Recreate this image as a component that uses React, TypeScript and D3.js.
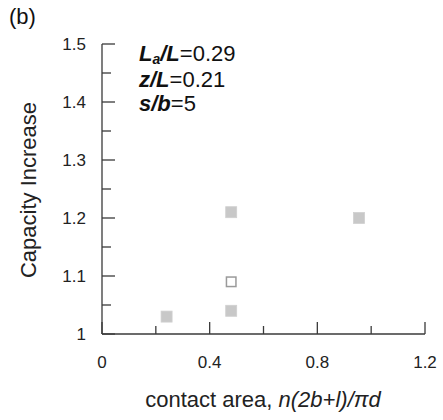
import React from "react";
import * as d3 from "d3";

const filledX = [0.24, 0.48, 0.48, 0.955];
const filledY = [1.03, 1.21, 1.04, 1.2];
const openX = [0.48];
const openY = [1.09];
const xTickLabels = [0, 0.4, 0.8, 1.2];
const yTickLabels = [1, 1.1, 1.2, 1.3, 1.4, 1.5];
const xMinorTicks = [0, 0.2, 0.4, 0.6, 0.8, 1.0, 1.2];
const yMinorTicks = [1.05, 1.15, 1.25, 1.35, 1.45];

const W = 443;
const H = 420;
const left = 102;
const right = 425;
const top = 44;
const bottom = 334;

export default function App() {
  const x = d3.scaleLinear().domain([0, 1.2]).range([left, right]);
  const y = d3.scaleLinear().domain([1, 1.5]).range([bottom, top]);
  const font = "Arial, 'Liberation Sans', Helvetica, sans-serif";
  const axisColor = "#3a3a3a";
  const ms = 11;
  return (
    <svg
      width={W}
      height={H}
      style={{ position: "absolute", left: 0, top: 0, display: "block" }}
      fontFamily={font}
    >
      <rect width={W} height={H} fill="#fff" />
      <text x={9} y={24} fontSize={22} fill="#111">(b)</text>

      {/* axes lines */}
      <line x1={left} x2={left} y1={top} y2={bottom} stroke={axisColor} strokeWidth={1.3} />
      <line x1={left} x2={right} y1={bottom} y2={bottom} stroke={axisColor} strokeWidth={1.3} />

      {/* y ticks */}
      {yTickLabels.map((v) => (
        <g key={"yt" + v}>
          <line x1={left} x2={left + 13} y1={y(v)} y2={y(v)} stroke={axisColor} strokeWidth={1.3} />
          <text x={86} y={y(v) + 6} fontSize={17} textAnchor="end" fill="#222">
            {v === 1 ? "1" : d3.format(".1f")(v)}
          </text>
        </g>
      ))}
      {yMinorTicks.map((v) => (
        <line key={"ym" + v} x1={left} x2={left + 9} y1={y(v)} y2={y(v)} stroke={axisColor} strokeWidth={1.3} />
      ))}

      {/* x ticks */}
      {xMinorTicks.map((v) => {
        const major = xTickLabels.some((t) => Math.abs(t - v) < 1e-9);
        return (
          <line
            key={"xm" + v}
            x1={x(v)}
            x2={x(v)}
            y1={bottom}
            y2={bottom - (major ? 12 : 8)}
            stroke={axisColor}
            strokeWidth={1.3}
          />
        );
      })}
      {xTickLabels.map((v) => (
        <text key={"xt" + v} x={x(v)} y={368} fontSize={17} textAnchor="middle" fill="#222">
          {v === 0 ? "0" : d3.format(".1f")(v)}
        </text>
      ))}

      {/* markers */}
      {filledX.map((v, i) => (
        <rect
          key={"f" + i}
          x={x(v) - ms / 2}
          y={y(filledY[i]) - ms / 2}
          width={ms}
          height={ms}
          fill="#c8c8c8"
          stroke="#d0d0d0"
          strokeWidth={0.8}
        />
      ))}
      {openX.map((v, i) => (
        <rect
          key={"o" + i}
          x={x(v) - ms / 2 + 0.75}
          y={y(openY[i]) - ms / 2 + 0.75}
          width={ms - 1.5}
          height={ms - 1.5}
          fill="#fff"
          stroke="#9a9a9a"
          strokeWidth={1.5}
        />
      ))}

      {/* annotations */}
      <text x={139} y={61} fontSize={22} fill="#111">
        <tspan fontWeight="bold" fontStyle="italic">L</tspan>
        <tspan fontWeight="bold" fontStyle="italic" fontSize={14} dy={3}>a</tspan>
        <tspan fontWeight="bold" fontStyle="italic" dy={-3}>/L</tspan>
        <tspan>=0.29</tspan>
      </text>
      <text x={139} y={86.5} fontSize={22} fill="#111">
        <tspan fontWeight="bold" fontStyle="italic">z/L</tspan>
        <tspan>=0.21</tspan>
      </text>
      <text x={139} y={110.5} fontSize={22} fill="#111">
        <tspan fontWeight="bold" fontStyle="italic">s/b</tspan>
        <tspan>=5</tspan>
      </text>

      {/* axis titles */}
      <text
        transform={`translate(36, 190) rotate(-90)`}
        fontSize={22}
        textAnchor="middle"
        fill="#222"
      >
        Capacity Increase
      </text>
      <text x={263} y={407} fontSize={22} textAnchor="middle" fill="#222">
        contact area, <tspan fontStyle="italic">n(2b+l)/πd</tspan>
      </text>
    </svg>
  );
}
